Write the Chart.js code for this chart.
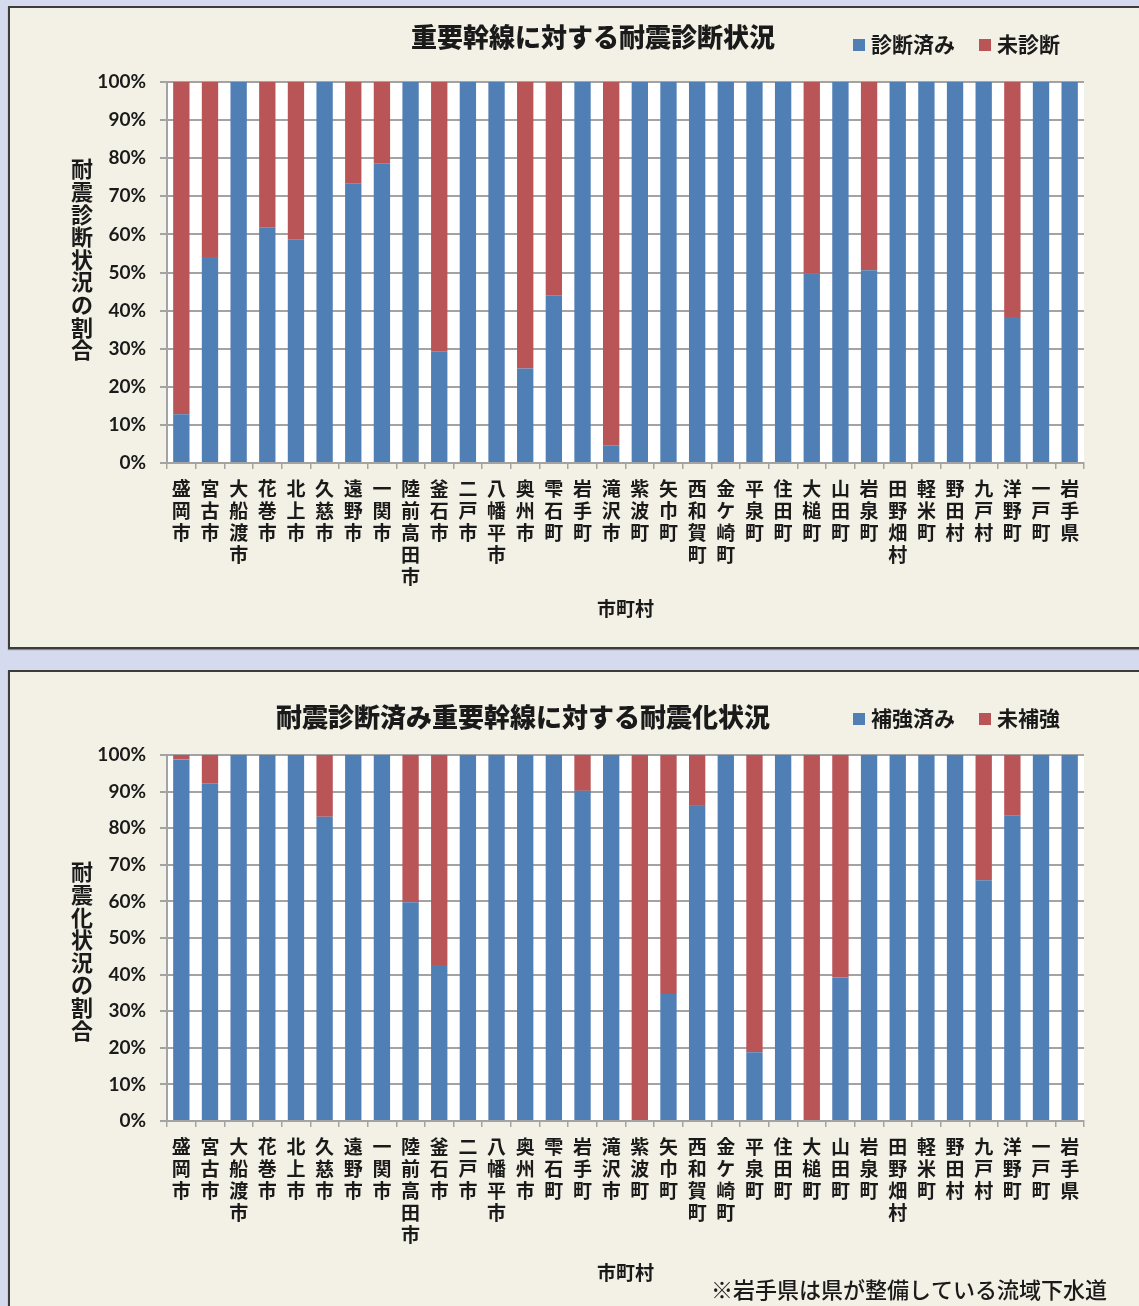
<!DOCTYPE html>
<html lang="ja">
<head>
<meta charset="utf-8">
<script src="https://cdn.jsdelivr.net/npm/chart.js@4.4.1/dist/chart.umd.min.js"></script>
<style>
  html, body { margin: 0; padding: 0; background: #d5daef; }
  body { width: 1139px; height: 1306px; position: relative; overflow: hidden; }
  .panel { position: absolute; left: 8px; width: 1150px; background: #f3f0e5;
           border: 2px solid #3c3c3c; box-sizing: border-box; box-shadow: 0 1px 1px #888; }
  #p1 { top: 6px; height: 643px; }
  #p2 { top: 670px; height: 660px; }
  canvas { position: absolute; left: 0; }
  #c1 { top: 0; }
  #c2 { top: 660px; }
</style>
</head>
<body>
<div class="panel" id="p1"></div>
<div class="panel" id="p2"></div>
<canvas id="c1" width="1139" height="648"></canvas>
<canvas id="c2" width="1139" height="646"></canvas>
<script>
// 市町村
const municipalities = [
  '盛岡市', '宮古市', '大船渡市', '花巻市', '北上市', '久慈市', '遠野市', '一関市',
  '陸前高田市', '釜石市', '二戸市', '八幡平市', '奥州市', '雫石町', '岩手町', '滝沢市',
  '紫波町', '矢巾町', '西和賀町', '金ケ崎町', '平泉町', '住田町', '大槌町', '山田町',
  '岩泉町', '田野畑村', '軽米町', '野田村', '九戸村', '洋野町', '一戸町', '岩手県'
];

// 重要幹線に対する耐震診断状況 (%)
const diagnosedDone = [
  12.8, 54.1, 100, 61.9, 58.6, 100, 73.3, 78.7,
  100, 29.3, 100, 100, 24.8, 44.0, 100, 4.5,
  100, 100, 100, 100, 100, 100, 49.7, 100,
  50.6, 100, 100, 100, 100, 38.3, 100, 100
];
const diagnosedNot = [
  87.2, 45.9, 0, 38.1, 41.4, 0, 26.7, 21.3,
  0, 70.7, 0, 0, 75.2, 56.0, 0, 95.5,
  0, 0, 0, 0, 0, 0, 50.3, 0,
  49.4, 0, 0, 0, 0, 61.7, 0, 0
];

// 耐震診断済み重要幹線に対する耐震化状況 (%)
const reinforcedDone = [
  98.8, 92.3, 100, 100, 100, 83.1, 100, 100,
  59.8, 42.6, 100, 100, 100, 100, 90.2, 100,
  0, 34.7, 86.1, 100, 18.8, 100, 0, 39.2,
  100, 100, 100, 100, 65.8, 83.4, 100, 100
];
const reinforcedNot = [
  1.2, 7.7, 0, 0, 0, 16.9, 0, 0,
  40.2, 57.4, 0, 0, 0, 0, 9.8, 0,
  100, 65.3, 13.9, 0, 81.2, 0, 100, 60.8,
  0, 0, 0, 0, 34.2, 16.6, 0, 0
];

const yTicks = [0, 10, 20, 30, 40, 50, 60, 70, 80, 90, 100];

const BLUE = '#4f7fb5';
const RED = '#b95457';
const GRID = '#a3a3a3';
const TEXT = '#1a1a1a';
const JP = '"Noto Sans CJK JP", "Noto Sans", sans-serif';

// title, legend, stacked y title and note are drawn here
const panelText = {
  id: 'panelText',
  beforeDraw(chart) {
    const { ctx, chartArea: a } = chart;
    ctx.save();
    ctx.fillStyle = '#ffffff';
    ctx.fillRect(a.left, a.top, a.right - a.left, a.bottom - a.top);
    ctx.restore();
  },
  afterDraw(chart, args, o) {
    const ctx = chart.ctx;
    ctx.save();
    ctx.fillStyle = TEXT;
    ctx.textBaseline = 'middle';

    // title
    ctx.font = '900 26px ' + JP;
    ctx.textAlign = 'center';
    ctx.fillText(o.title, o.titleX, o.titleY);

    // legend, right aligned
    ctx.font = 'bold 21px ' + JP;
    ctx.textAlign = 'left';
    const sets = chart.data.datasets;
    let total = 0;
    sets.forEach((ds, i) => {
      total += 12 + 6 + ctx.measureText(ds.label).width + (i < sets.length - 1 ? 24 : 0);
    });
    let x = o.legendRight - total;
    sets.forEach(ds => {
      ctx.fillStyle = ds.backgroundColor;
      ctx.fillRect(x, o.legendY - 5, 12, 12);
      x += 18;
      ctx.fillStyle = TEXT;
      ctx.fillText(ds.label, x, o.legendY);
      x += ctx.measureText(ds.label).width + 24;
    });

    // y axis title, upright characters stacked
    ctx.font = 'bold 22px ' + JP;
    ctx.textAlign = 'center';
    o.yTitle.split('').forEach((ch, i) => {
      ctx.fillText(ch, 82, o.yTitleY + i * 22.6);
    });

    if (o.note) {
      ctx.font = '500 22px ' + JP;
      ctx.textAlign = 'left';
      ctx.fillText(o.note, o.noteX, o.noteY);
    }
    ctx.restore();
  }
};

function makeChart(id, labels, done, notDone, names, text, axisHeight, titlePad, topPad) {
  return new Chart(document.getElementById(id), {
    type: 'bar',
    data: {
      labels: labels,
      datasets: [
        { label: names[0], data: done, backgroundColor: BLUE },
        { label: names[1], data: notDone, backgroundColor: RED }
      ]
    },
    options: {
      responsive: false,
      animation: false,
      devicePixelRatio: 1,
      barPercentage: 0.57,
      categoryPercentage: 1,
      layout: { padding: { top: topPad, right: 55, left: 0, bottom: 0 } },
      plugins: {
        legend: { display: false },
        tooltip: { enabled: false },
        panelText: text
      },
      scales: {
        x: {
          stacked: true,
          grid: { drawOnChartArea: false, tickLength: 6, color: GRID, lineWidth: 1.5 },
          border: { color: GRID, width: 2 },
          ticks: {
            padding: 9,
            color: TEXT,
            maxRotation: 0,
            autoSkip: false,
            font: { family: JP, size: 19, weight: 'bold', lineHeight: '22px' },
            callback: function (v) { return this.getLabelForValue(v).split(''); }
          },
          title: {
            display: true,
            text: '市町村',
            color: TEXT,
            font: { family: JP, size: 19, weight: 'bold', lineHeight: 1.2 },
            padding: { top: 0, bottom: titlePad }
          },
          afterFit: s => { s.height = axisHeight; }
        },
        y: {
          stacked: true,
          min: 0,
          max: 100,
          afterBuildTicks: s => { s.ticks = yTicks.map(v => ({ value: v })); },
          grid: { color: GRID, lineWidth: 2, tickLength: 7 },
          border: { color: GRID, width: 2 },
          ticks: {
            padding: 14,
            color: TEXT,
            font: { family: 'Lato, "Liberation Sans", sans-serif', size: 19, weight: 'bold' },
            callback: v => v + '%'
          },
          afterFit: s => { s.width = 167; }
        }
      }
    },
    plugins: [panelText]
  });
}

makeChart('c1', municipalities, diagnosedDone, diagnosedNot, ['診断済み', '未診断'], {
  title: '重要幹線に対する耐震診断状況', titleX: 593, titleY: 37,
  legendRight: 1060, legendY: 44,
  yTitle: '耐震診断状況の割合', yTitleY: 169
}, 185, 28, 82);

makeChart('c2', municipalities, reinforcedDone, reinforcedNot, ['補強済み', '未補強'], {
  title: '耐震診断済み重要幹線に対する耐震化状況', titleX: 523, titleY: 57,
  legendRight: 1060, legendY: 58,
  yTitle: '耐震化状況の割合', yTitleY: 212,
  note: '※岩手県は県が整備している流域下水道', noteX: 711, noteY: 630
}, 185, 22, 95);
</script>
</body>
</html>
